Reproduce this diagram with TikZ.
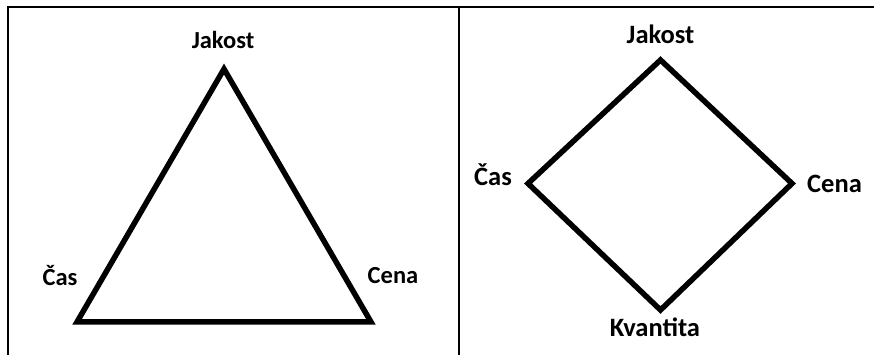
\documentclass[tikz,border=0pt]{standalone}
\usepackage{fontspec}
\setmainfont{Carlito}
\begin{document}
\begin{tikzpicture}[x=1pt,y=1pt,
  frameline/.style={line width=2pt},
  shapeline/.style={line width=5.5pt, line join=miter},
  lblL/.style={font=\bfseries\fontsize{24.5}{24.5}\selectfont, inner sep=0pt, anchor=base},
  lblR/.style={font=\bfseries\fontsize{26.5}{26.5}\selectfont, inner sep=0pt, anchor=base}]
\useasboundingbox (0,0) rectangle (874,355);
% frame
\coordinate (fbl) at (8,0);
\coordinate (ftl) at (8,348.3);
\coordinate (ftr) at (874,348.3);
\coordinate (dtop) at (458.5,348.3);
\coordinate (dbot) at (458.5,0);
\draw[frameline] (fbl) -- (ftl) -- (ftr);
\draw[frameline] (dtop) -- (dbot);
% triangle
\coordinate (tA) at (224,286);
\coordinate (tB) at (77,33);
\coordinate (tC) at (371,33);
\draw[shapeline] (tA) -- (tB) -- (tC) -- cycle;
\node[lblL] (tj) at (223,306.7) {Jakost};
\node[lblL] (tc) at (60,69) {Čas};
\node[lblL] (tn) at (393,71) {Cena};
% diamond
\coordinate (dT) at (660.5,295);
\coordinate (dL) at (528,171.5);
\coordinate (dB) at (660.5,45);
\coordinate (dR) at (792,171.5);
\draw[shapeline] (dT) -- (dL) -- (dB) -- (dR) -- cycle;
\node[lblR] (dj) at (660.5,311.5) {Jakost};
\node[lblR] (dc) at (493,169.3) {Čas};
\node[lblR] (dn) at (834.5,162.3) {Cena};
\node[lblR] (dk) at (655,18.3) {Kvantita};
\end{tikzpicture}
\end{document}
